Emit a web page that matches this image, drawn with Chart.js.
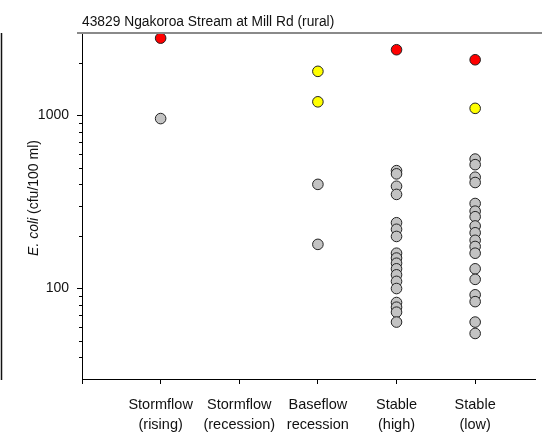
<!DOCTYPE html>
<html><head><meta charset="utf-8">
<script src="https://cdn.jsdelivr.net/npm/chart.js@4.4.0/dist/chart.umd.min.js"></script>
<style>html,body{margin:0;padding:0;background:#fff}#wrap{position:relative;width:542px;height:440px}</style>
</head><body><div id="wrap"><canvas id="c" width="542" height="440"></canvas></div>
<script>
const chartTitle = '43829 Ngakoroa Stream at Mill Rd (rural)';
const yAxisTitleItalic = 'E. coli';
const yAxisTitleRest = ' (cfu/100 ml)';
const categories = [['Stormflow','(rising)'],['Stormflow','(recession)'],['Baseflow','recession'],['Stable','(high)'],['Stable','(low)']];
const yTickLabels = [100, 1000];
const yMinorTicks = [40,50,60,70,80,90,200,300,400,500,600,700,800,900,2000];
const redValues = [2800, null, null, 2400, 2100];
const yellowBaseflow = [1800, 1200];
const yellowStableLow = [1100];
const greyStormRising = [960];
const greyStormRecession = [];
const greyBaseflow = [400, 180];
const greyStableHigh = [480,460,390,350,240,220,200,160,150,140,130,120,110,100,83,78,73,64];
const greyStableLow = [560,520,440,410,310,280,260,230,210,190,175,160,130,113,92,84,64,55];

const FONT = 'Arial, "Liberation Sans", sans-serif';
const greySets = [greyStormRising, greyStormRecession, greyBaseflow, greyStableHigh, greyStableLow];
const greyPts = [];
greySets.forEach((arr, i) => arr.forEach(v => greyPts.push({x: i + 1, y: v})));
const yellowPts = yellowBaseflow.map(v => ({x: 3, y: v})).concat(yellowStableLow.map(v => ({x: 5, y: v})));
const redPts = [];
redValues.forEach((v, i) => { if (v !== null) redPts.push({x: i + 1, y: v}); });

const ptStyle = {pointRadius: 5.3, pointHoverRadius: 5.3, pointBorderWidth: 1, pointBorderColor: '#222', showLine: false};

const decor = {
  id: 'decor',
  afterDraw(chart) {
    const ctx = chart.ctx, ca = chart.chartArea, ys = chart.scales.y;
    ctx.save();
    ctx.strokeStyle = '#000'; ctx.lineWidth = 1;
    yMinorTicks.forEach(v => {
      const y = Math.round(ys.getPixelForValue(v)) + 0.5;
      ctx.beginPath(); ctx.moveTo(ca.left - 3, y); ctx.lineTo(ca.left, y); ctx.stroke();
    });
    ctx.strokeStyle = '#8a8a8a'; ctx.lineWidth = 2;
    ctx.beginPath(); ctx.moveTo(77, ca.top); ctx.lineTo(chart.width, ca.top); ctx.stroke();
    ctx.strokeStyle = '#111'; ctx.lineWidth = 1.5;
    ctx.beginPath(); ctx.moveTo(1.5, ca.top); ctx.lineTo(1.5, ca.bottom + 1); ctx.stroke();
    ctx.translate(34, 198);
    ctx.rotate(-Math.PI / 2);
    ctx.fillStyle = '#111';
    ctx.textBaseline = 'middle';
    ctx.font = 'italic 14px ' + FONT;
    const w1 = ctx.measureText(yAxisTitleItalic).width;
    ctx.font = '14px ' + FONT;
    const w2 = ctx.measureText(yAxisTitleRest).width;
    let x0 = -(w1 + w2) / 2;
    ctx.font = 'italic 14px ' + FONT;
    ctx.textAlign = 'left';
    ctx.fillText(yAxisTitleItalic, x0, 0);
    ctx.font = '14px ' + FONT;
    ctx.fillText(yAxisTitleRest, x0 + w1, 0);
    ctx.restore();
  }
};

new Chart(document.getElementById('c'), {
  type: 'scatter',
  data: {
    datasets: [
      Object.assign({label: 'grey', data: greyPts, backgroundColor: '#c3c3c3'}, ptStyle),
      Object.assign({label: 'yellow', data: yellowPts, backgroundColor: '#ffff00'}, ptStyle),
      Object.assign({label: 'red', data: redPts, backgroundColor: '#ff0000'}, ptStyle)
    ]
  },
  options: {
    responsive: false, animation: false, devicePixelRatio: 1,
    layout: {padding: 0},
    plugins: {
      legend: {display: false}, tooltip: {enabled: false},
      title: {display: true, text: chartTitle, align: 'start', fullSize: false,
        font: {family: FONT, size: 13.8, weight: 'normal'}, color: '#111',
        padding: {top: 14, bottom: 2.4}}
    },
    scales: {
      x: {
        type: 'linear', min: 0, max: 5.77,
        afterBuildTicks: s => { s.ticks = [0,1,2,3,4,5].map(v => ({value: v})); },
        afterFit: s => { s.height = 61; },
        ticks: {autoSkip: false, maxRotation: 0, padding: 11, color: '#111',
          font: {family: FONT, size: 14.5, lineHeight: 1.4},
          callback: v => (v >= 1 ? categories[v - 1] : '')},
        grid: {display: true, drawOnChartArea: false, drawTicks: true, tickLength: 5, tickColor: '#000'},
        border: {display: true, color: '#000', width: 1}
      },
      y: {
        type: 'logarithmic', min: 30, max: 3000,
        afterBuildTicks: s => { s.ticks = yTickLabels.map(v => ({value: v, major: true})); },
        afterFit: s => { s.width = 82; },
        ticks: {padding: 8, color: '#111', font: {family: FONT, size: 14},
          callback: v => String(v)},
        grid: {display: true, drawOnChartArea: false, drawTicks: true, tickLength: 5, tickColor: '#000'},
        border: {display: true, color: '#000', width: 1}
      }
    }
  },
  plugins: [decor]
});
</script></body></html>
